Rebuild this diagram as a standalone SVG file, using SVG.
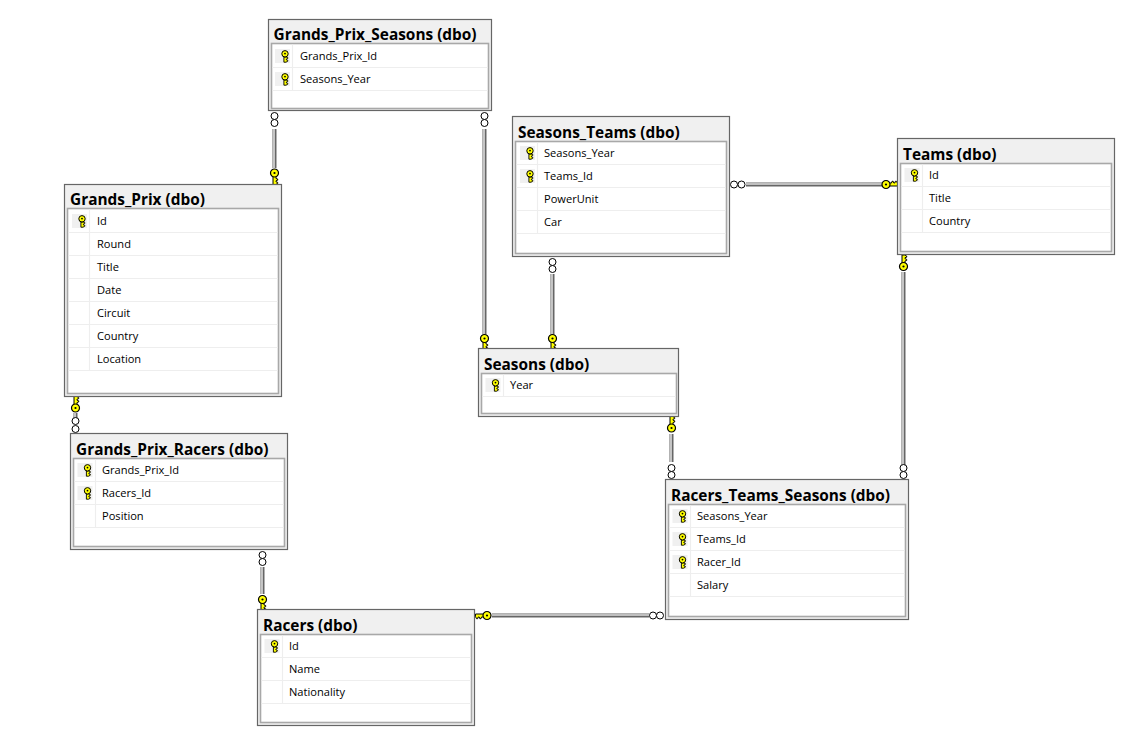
<svg xmlns="http://www.w3.org/2000/svg" width="1137" height="748" viewBox="0 0 1137 748">
<style>
text{font-family:"Open Sans","Noto Sans","Liberation Sans",sans-serif;fill:#000}
.t{font-size:15.4px;font-weight:700}
.r{font-size:11.1px}
.o{fill:#f0f0f0;stroke:#666;stroke-width:1.2}
.i{fill:#fff;stroke:#a8a8a8;stroke-width:1.6}
.l{stroke:#eee;stroke-width:1.2;fill:none}
.b{fill:#f0f0f0}
.c1{stroke:#666;stroke-width:4;fill:none}
.c2{stroke:#ddd;stroke-width:1.6;fill:none}
.m{fill:#fff;stroke:#000;stroke-width:1}
</style>
<defs>
<g id="k">
<path d="M-1.500 2.500V11.500H1.200L3.200 10.500V9.300L1.500 8.800V7.800L3.200 7.200V6L1.500 5.500V2.500Z" fill="#ff0" stroke="#000" stroke-width="1"/>
<circle r="4" fill="#ff0" stroke="#000" stroke-width="1.200"/>
<circle r="1.100" fill="#000"/>
</g>
<g id="s">
<rect class="b" x="-10" y="-7" width="15" height="14"/>
<path d="M-1.100 1V6.200H1L2.800 5.200V4.300L1.400 3.900V3L2.800 2.500V1.500L1 1Z" fill="#ff0" stroke="#000" stroke-width=".9"/>
<circle cy="-2.200" r="3.200" fill="#ff0" stroke="#000" stroke-width="1"/>
<circle cy="-2.400" r=".9" fill="#000"/>
</g>
</defs>
<rect width="1137" height="748" fill="#fff"/>
<g id="connectors">
<path class="c1" d="M274.500 129V168M484.500 129V334M552.500 274V334M746 184.500H882M903.500 272V465M671.500 434V462M75.500 413V418M262.500 567V594M492 615.500H649"/>
<path class="c2" d="M274 129V168M484 129V334M552 274V334M746 184H882M903 272V465M671 434V462M75 413V418M262 567V594M492 615H649"/>
<g class="m">
<circle cx="274.500" cy="116" r="3.500"/><circle cx="274.500" cy="123" r="3.500"/>
<circle cx="484.500" cy="116" r="3.500"/><circle cx="484.500" cy="123" r="3.500"/>
<circle cx="552.500" cy="262" r="3.500"/><circle cx="552.500" cy="269" r="3.500"/>
<circle cx="734" cy="184.500" r="3.500"/><circle cx="741.500" cy="184.500" r="3.500"/>
<circle cx="903.500" cy="468" r="3.500"/><circle cx="903.500" cy="475" r="3.500"/>
<circle cx="671.500" cy="468" r="3.500"/><circle cx="671.500" cy="475" r="3.500"/>
<circle cx="75.500" cy="421" r="3.500"/><circle cx="75.500" cy="429" r="3.500"/>
<circle cx="262.500" cy="555" r="3.500"/><circle cx="262.500" cy="562" r="3.500"/>
<circle cx="653" cy="615.500" r="3.500"/><circle cx="660" cy="615.500" r="3.500"/>
</g>
<use href="#k" transform="translate(274.500 173)"/>
<use href="#k" transform="translate(484.500 338.500)"/>
<use href="#k" transform="translate(552.500 338.500)"/>
<use href="#k" transform="translate(886 184.500) rotate(-90)"/>
<use href="#k" transform="translate(903.500 266.500) scale(1 -1)"/>
<use href="#k" transform="translate(671.500 428) scale(1 -1)"/>
<use href="#k" transform="translate(75.500 408) scale(1 -1)"/>
<use href="#k" transform="translate(262.500 599.500)"/>
<use href="#k" transform="translate(487 615.500) rotate(90)"/>
</g>
<g id="grands_prix_seasons" transform="translate(268.500 19.500)">
<rect class="o" width="223" height="91"/><rect class="i" x="3" y="24" width="217" height="65"/>
<path class="l" d="M4 48H219M4 71H219M24 25V71"/>
<text class="t" x="5" y="20">Grands_Prix_Seasons (dbo)</text>
<use href="#s" x="16.500" y="36.500"/><text class="r" x="31.500" y="40">Grands_Prix_Id</text>
<use href="#s" x="16.500" y="59.500"/><text class="r" x="31.500" y="63">Seasons_Year</text>
</g>
<g id="grands_prix" transform="translate(65.500 184.500)">
<rect class="o" x="-1" width="217" height="212"/><rect class="i" x="2" y="24" width="211" height="185"/>
<path class="l" d="M3 48H212M3 71H212M3 94H212M3 117H212M3 140H212M3 163H212M3 186H212M24 25V186"/>
<text class="t" x="4.500" y="20">Grands_Prix (dbo)</text>
<use href="#s" x="16.500" y="36.500"/><text class="r" x="31.500" y="40">Id</text>
<text class="r" x="31.500" y="63">Round</text>
<text class="r" x="31.500" y="86">Title</text>
<text class="r" x="31.500" y="109">Date</text>
<text class="r" x="31.500" y="132">Circuit</text>
<text class="r" x="31.500" y="155">Country</text>
<text class="r" x="31.500" y="178">Location</text>
</g>
<g id="seasons_teams" transform="translate(513.500 117.500)">
<rect class="o" x="-1" y="-1" width="217" height="140"/><rect class="i" x="2" y="24" width="211" height="112"/>
<path class="l" d="M3 47H212M3 70H212M3 93H212M3 116H212M24 25V116"/>
<text class="t" x="4.500" y="20">Seasons_Teams (dbo)</text>
<use href="#s" x="16.500" y="35.500"/><text class="r" x="30.500" y="39.500">Seasons_Year</text>
<use href="#s" x="16.500" y="58.500"/><text class="r" x="30.500" y="62.500">Teams_Id</text>
<text class="r" x="30.500" y="85.500">PowerUnit</text>
<text class="r" x="30.500" y="108.500">Car</text>
</g>
<g id="teams" transform="translate(898.500 139.500)">
<rect class="o" x="-1" y="-1" width="217" height="116"/><rect class="i" x="2" y="24" width="211" height="88"/>
<path class="l" d="M3 47H212M3 70H212M3 93H212M24 25V93"/>
<text class="t" x="4.500" y="20">Teams (dbo)</text>
<use href="#s" x="16" y="35.500"/><text class="r" x="30.500" y="39.500">Id</text>
<text class="r" x="30.500" y="62.500">Title</text>
<text class="r" x="30.500" y="85.500">Country</text>
</g>
<g id="seasons" transform="translate(479.500 349.500)">
<rect class="o" x="-1" y="-1" width="200" height="68"/><rect class="i" x="2" y="24" width="195" height="40"/>
<path class="l" d="M3 47H196M24 25V47"/>
<text class="t" x="4.500" y="20">Seasons (dbo)</text>
<use href="#s" x="16" y="35.500"/><text class="r" x="30.500" y="39.500">Year</text>
</g>
<g id="grands_prix_racers" transform="translate(71.500 434.500)">
<rect class="o" x="-1" y="-1" width="217" height="116"/><rect class="i" x="2" y="24" width="211" height="88"/>
<path class="l" d="M3 47H212M3 70H212M3 93H212M24 25V93"/>
<text class="t" x="4.500" y="20">Grands_Prix_Racers (dbo)</text>
<use href="#s" x="16" y="35.500"/><text class="r" x="30.500" y="39.500">Grands_Prix_Id</text>
<use href="#s" x="16" y="58.500"/><text class="r" x="30.500" y="62.500">Racers_Id</text>
<text class="r" x="30.500" y="85.500">Position</text>
</g>
<g id="racers_teams_seasons" transform="translate(666.500 480.500)">
<rect class="o" x="-1" y="-1" width="243" height="140"/><rect class="i" x="2" y="24" width="237" height="112"/>
<path class="l" d="M3 47H238M3 70H238M3 93H238M3 116H238M24 25V116"/>
<text class="t" x="4.500" y="20">Racers_Teams_Seasons (dbo)</text>
<use href="#s" x="16" y="35.500"/><text class="r" x="30.500" y="39.500">Seasons_Year</text>
<use href="#s" x="16" y="58.500"/><text class="r" x="30.500" y="62.500">Teams_Id</text>
<use href="#s" x="16" y="81.500"/><text class="r" x="30.500" y="85.500">Racer_Id</text>
<text class="r" x="30.500" y="108.500">Salary</text>
</g>
<g id="racers" transform="translate(258.500 610.500)">
<rect class="o" x="-1" y="-1" width="217" height="116"/><rect class="i" x="2" y="24" width="211" height="88"/>
<path class="l" d="M3 47H212M3 70H212M3 93H212M24 25V93"/>
<text class="t" x="4.500" y="20">Racers (dbo)</text>
<use href="#s" x="16" y="35.500"/><text class="r" x="30.500" y="39.500">Id</text>
<text class="r" x="30.500" y="62.500">Name</text>
<text class="r" x="30.500" y="85.500">Nationality</text>
</g>
</svg>
